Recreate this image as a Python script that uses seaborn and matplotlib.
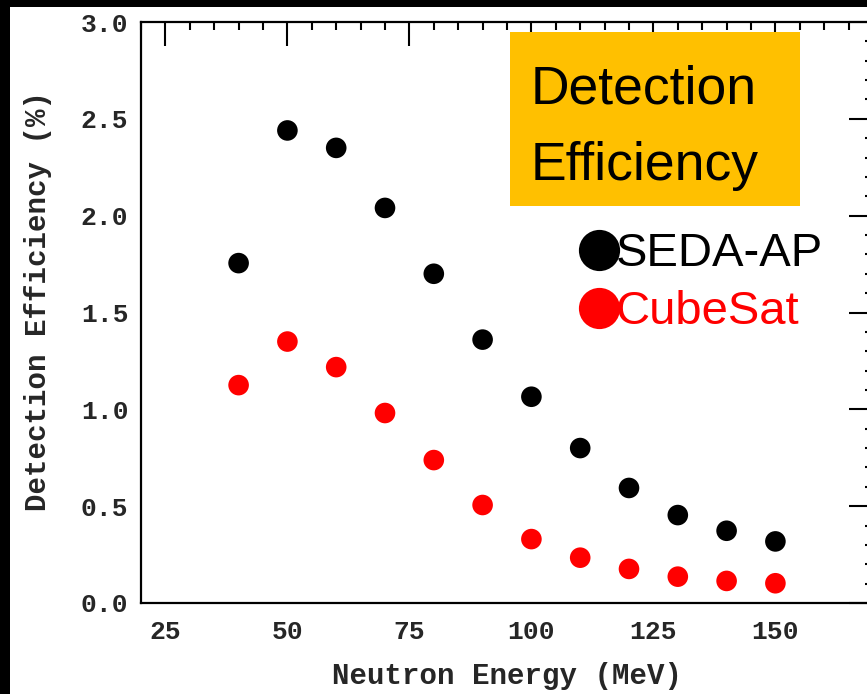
import matplotlib
matplotlib.use("Agg")
import matplotlib.pyplot as plt
import matplotlib.patches as mpatches
from matplotlib.ticker import MultipleLocator
import numpy as np
import pandas as pd
import seaborn as sns

# ---- data ----
energy = [40, 50, 60, 70, 80, 90, 100, 110, 120, 130, 140, 150]
seda_ap = [1.755, 2.44, 2.35, 2.04, 1.70, 1.36, 1.065, 0.80, 0.594, 0.454, 0.373, 0.318]
cubesat = [1.125, 1.35, 1.218, 0.981, 0.738, 0.506, 0.330, 0.234, 0.176, 0.136, 0.114, 0.102]
series_names = ["SEDA-AP", "CubeSat"]
series_colors = ["black", "red"]
x_ticks = [25, 50, 75, 100, 125, 150]
y_ticks = [0.0, 0.5, 1.0, 1.5, 2.0, 2.5, 3.0]
x_label = "Neutron Energy (MeV)"
y_label = "Detection Efficiency (%)"
title_box = "Detection\nEfficiency"

df = pd.DataFrame({
    "Energy": energy * 2,
    "Eff": seda_ap + cubesat,
    "Detector": [series_names[0]] * len(energy) + [series_names[1]] * len(energy),
})

sns.set_style("white")
plt.rcParams["font.family"] = ["Liberation Mono", "DejaVu Sans Mono"]
plt.rcParams["font.weight"] = "bold"

fig = plt.figure(figsize=(8.67, 6.94), dpi=100)
ax = fig.add_axes([141 / 867, 1 - 603 / 694, (873 - 141) / 867, (603 - 22) / 694])

sns.scatterplot(data=df, x="Energy", y="Eff", hue="Detector",
                palette=dict(zip(series_names, series_colors)),
                s=220, edgecolor="none", linewidth=0, ax=ax, legend=True)

ax.set_xlim(20, 170)
ax.set_ylim(0, 3.0)
ax.set_xticks(x_ticks)
ax.set_yticks(y_ticks)
ax.set_xticklabels([str(v) for v in x_ticks])
ax.set_yticklabels([f"{v:.1f}" for v in y_ticks])
ax.xaxis.set_minor_locator(MultipleLocator(5))
ax.yaxis.set_minor_locator(MultipleLocator(0.1))
ax.tick_params(which="both", direction="in", top=True, right=True,
               width=1.5, color="black", labelsize=19)
ax.tick_params(which="major", length=17)
ax.tick_params(which="minor", length=6)
ax.tick_params(axis="x", which="major", pad=12)
ax.tick_params(axis="y", which="major", pad=9)
for sp in ax.spines.values():
    sp.set_linewidth(1.6)
    sp.set_color("black")

ax.set_xlabel(x_label, fontsize=21, labelpad=13, fontweight="bold")
ax.set_ylabel(y_label, fontsize=21, fontweight="bold")
ax.yaxis.set_label_coords(-0.122, 0.52)

# legend
handles, labels = ax.get_legend_handles_labels()
leg = ax.legend(handles, labels, loc="upper left", bbox_to_anchor=(0.574, 0.679),
                frameon=False, markerscale=2.0, handlelength=0.6,
                handletextpad=0.05, labelspacing=0.3, borderpad=0,
                prop={"family": ["Liberation Sans", "DejaVu Sans"], "size": 34,
                      "weight": "normal"},
                labelcolor="markerfacecolor")

# orange title box
fig.add_artist(mpatches.Rectangle((510 / 867, 1 - 206 / 694), 290 / 867, 174 / 694,
                                  transform=fig.transFigure, facecolor="#FFC000",
                                  edgecolor="none", zorder=5))
for line, base in zip(title_box.split("\n"), [103, 180]):
    fig.text(531 / 867, 1 - base / 694, line, ha="left", va="baseline",
             fontsize=38.5, family=["Liberation Sans", "DejaVu Sans"], fontweight="normal",
             color="black", zorder=6)

# black frame strips (top and left)
fig.add_artist(mpatches.Rectangle((0, 1 - 7 / 694), 1, 7 / 694, transform=fig.transFigure,
                                  facecolor="black", edgecolor="none", zorder=10))
fig.add_artist(mpatches.Rectangle((0, 0), 10 / 867, 1, transform=fig.transFigure,
                                  facecolor="black", edgecolor="none", zorder=10))

fig.savefig("out.png", dpi=100)
